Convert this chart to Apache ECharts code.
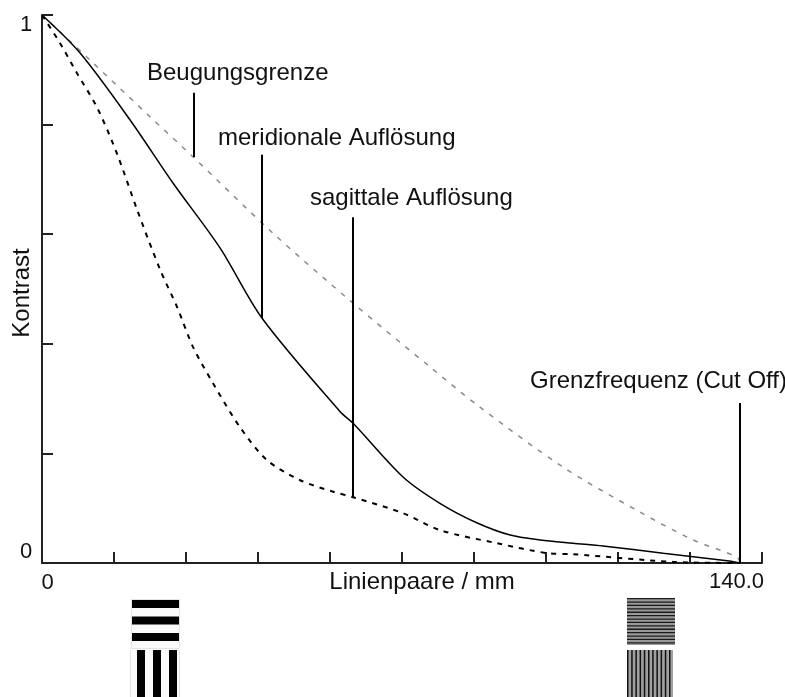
<!DOCTYPE html>
<html>
<head>
<meta charset="utf-8">
<script src="https://cdn.jsdelivr.net/npm/echarts@6/dist/echarts.min.js"></script>
<style>
  html, body { margin: 0; padding: 0; background: #fff; }
  #chart { width: 785px; height: 697px; }
</style>
</head>
<body>
<div id="chart"></div>
<script>
// MTF curves: spatial frequency (Linienpaare / mm) against contrast
const diffX = [0, 9.6, 21.7, 30.3, 46.3, 62.4, 77.8, 87.3, 104.5, 119.9, 130.6, 139.4, 140];
const diffY = [1, 0.918, 0.814, 0.741, 0.602, 0.474, 0.358, 0.288, 0.175, 0.093, 0.042, 0.011, 0];

const meriX = [0, 7.6, 17.7, 26.3, 35.7, 44.1, 59.8, 62.4, 72.4, 79.8, 87.3, 93.9, 99.9, 106.5, 112.5, 124.6, 137.4, 140];
const meriY = [1, 0.931, 0.808, 0.693, 0.575, 0.447, 0.276, 0.255, 0.157, 0.109, 0.073, 0.051, 0.042, 0.036, 0.031, 0.018, 0.004, 0];

const sagX = [0, 3.6, 7.0, 11.0, 15.0, 19.1, 23.7, 27.1, 30.3, 34.3, 39.7, 45.1, 51.8, 58.4, 62.4, 72.4, 79.8, 91.3, 101.3, 106.5, 126.6, 140];
const sagY = [1, 0.949, 0.894, 0.832, 0.748, 0.644, 0.535, 0.467, 0.394, 0.328, 0.248, 0.188, 0.151, 0.130, 0.120, 0.091, 0.060, 0.036, 0.018, 0.016, 0.002, 0];

// pointer lines from a curve up to its annotation: [x, yFrom, yTo]
const diffPointer = [30.5, 0.741, 0.858];
const meriPointer = [44.1, 0.447, 0.745];
const sagPointer = [62.4, 0.120, 0.631];
const cutOffPointer = [140, 0, 0.292];

const cutOff = 140.0;
const xAxisMax = 144.4;
const xTickStep = 14.44;

const zip = (xs, ys) => xs.map((x, i) => [x, ys[i]]);
const pointer = p => [[{ coord: [p[0], p[1]] }, { coord: [p[0], p[2]] }]];

const FONT = '"Liberation Sans", Arial, sans-serif';
const INK = '#111';

function label(text, x, y, size, align, extra) {
  return Object.assign({
    type: 'text', x: x, y: y, silent: true,
    style: {
      text: text, x: 0, y: 0,
      font: size + 'px ' + FONT, fill: INK,
      textAlign: align, align: align,
      textVerticalAlign: 'middle', verticalAlign: 'middle'
    }
  }, extra || {});
}

function markLineOf(points) {
  return {
    silent: true, symbol: ['none', 'none'], animation: false,
    label: { show: false },
    lineStyle: { color: '#000', width: 2, type: 'solid' },
    data: points.reduce((acc, p) => acc.concat(pointer(p)), [])
  };
}

// test-pattern swatches below the axis
function stripes(x0, y0, w, h, period, thick, horizontal, bg, ink) {
  const els = [{ type: 'rect', shape: { x: x0, y: y0, width: w, height: h }, style: { fill: bg } }];
  const span = horizontal ? h : w;
  for (let p = 0; p + thick <= span + 0.01; p += period) {
    els.push({
      type: 'rect',
      shape: horizontal ? { x: x0, y: y0 + p, width: w, height: thick }
                        : { x: x0 + p, y: y0, width: thick, height: h },
      style: { fill: ink }
    });
  }
  return els;
}

const chart = echarts.init(document.getElementById('chart'), null, { renderer: 'canvas' });

const axisLine = { show: true, lineStyle: { color: '#222', width: 2 } };
const axisTick = { show: true, inside: true, length: 11, lineStyle: { color: '#222', width: 2 } };

chart.setOption({
  animation: false,
  backgroundColor: '#fff',
  grid: { left: 42, top: 15, width: 720, height: 548, containLabel: false },
  xAxis: {
    type: 'value', min: 0, max: xAxisMax, interval: xTickStep,
    axisLine: axisLine, axisTick: axisTick,
    axisLabel: { show: false }, splitLine: { show: false }
  },
  yAxis: {
    type: 'value', min: 0, max: 1, interval: 0.2,
    axisLine: axisLine, axisTick: axisTick,
    axisLabel: { show: false }, splitLine: { show: false }
  },
  series: [
    {
      name: 'Beugungsgrenze', type: 'line', data: zip(diffX, diffY),
      symbol: 'none', smooth: 0.3,
      lineStyle: { color: '#8a8a8a', width: 1.5, type: [5, 7] },
      markLine: markLineOf([diffPointer])
    },
    {
      name: 'meridionale Auflösung', type: 'line', data: zip(meriX, meriY),
      symbol: 'none', smooth: 0.3,
      lineStyle: { color: '#000', width: 1.5, type: 'solid' },
      markLine: markLineOf([meriPointer, cutOffPointer])
    },
    {
      name: 'sagittale Auflösung', type: 'line', data: zip(sagX, sagY),
      symbol: 'none', smooth: 0.3,
      lineStyle: { color: '#000', width: 2, type: [5, 6] },
      markLine: markLineOf([sagPointer])
    }
  ]
});

const px = v => chart.convertToPixel({ gridIndex: 0 }, v);
const origin = px([0, 0]);
const top1 = px([0, 1]);
const cut = px([cutOff, 0]);

const graphics = [
  // axis values and titles
  label('1', origin[0] - 16, top1[1] + 10, 22, 'center'),
  label('0', origin[0] - 16, origin[1] - 11, 22, 'center'),
  label('0', origin[0] + 5.5, origin[1] + 19.5, 22, 'center'),
  label(cutOff.toFixed(1), cut[0] - 3.5, origin[1] + 19, 22, 'center'),
  label('Linienpaare / mm', 422, origin[1] + 19, 24, 'center'),
  label('Kontrast', 22, 293, 24, 'center', { rotation: Math.PI / 2 }),
  // curve annotations
  label('Beugungsgrenze', 147, 73.5, 24, 'left'),
  label('meridionale Auflösung', 218, 138.5, 24, 'left'),
  label('sagittale Auflösung', 310, 198.5, 24, 'left'),
  label('Grenzfrequenz (Cut Off)', 530, 381.5, 24, 'left')
];

// coarse pattern (low frequency)
graphics.push({ type: 'rect', shape: { x: 131.5, y: 599.5, width: 48, height: 49 }, style: { fill: 'none', stroke: '#e4e4e4', lineWidth: 1 } });
stripes(132, 600, 47, 48, 16.5, 8, true, '#fafafa', '#000').forEach(e => graphics.push(e));
graphics.push({ type: 'rect', shape: { x: 130, y: 650, width: 50, height: 47 }, style: { fill: '#fafafa' } });
graphics.push({ type: 'rect', shape: { x: 130, y: 650, width: 1, height: 47 }, style: { fill: '#e0e0e0' } });
graphics.push({ type: 'rect', shape: { x: 179, y: 650, width: 1, height: 47 }, style: { fill: '#e0e0e0' } });
stripes(137, 650, 40, 47, 16, 8, false, 'rgba(0,0,0,0)', '#000').forEach(e => graphics.push(e));

// fine pattern (near the cut-off frequency)
stripes(627, 598, 48, 47, 3.4, 1.3, true, '#9a9a9a', '#1a1a1a').forEach(e => graphics.push(e));
stripes(627, 650, 46, 47, 4.2, 1.5, false, '#a0a0a0', '#111').forEach(e => graphics.push(e));

chart.setOption({ graphic: { elements: graphics } });
</script>
</body>
</html>
